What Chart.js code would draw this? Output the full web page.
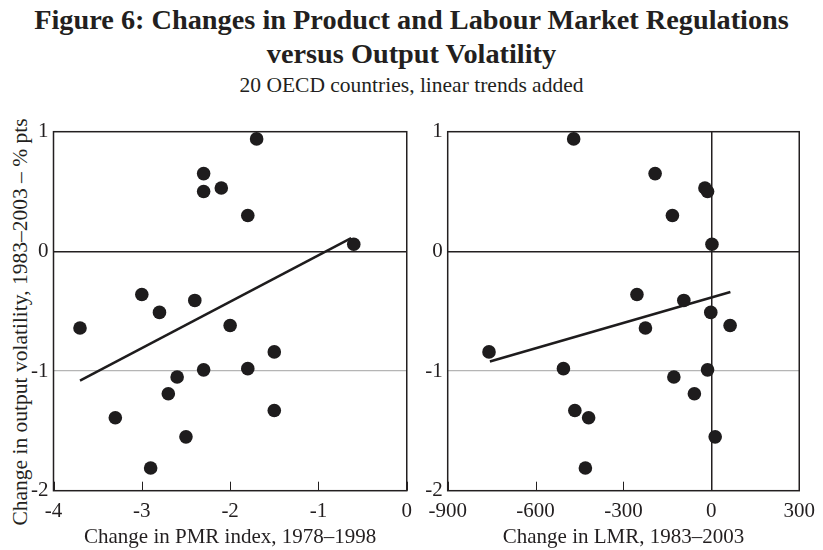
<!DOCTYPE html>
<html>
<head>
<meta charset="utf-8">
<script src="https://cdn.jsdelivr.net/npm/chart.js@4"></script>
<style>
  body { margin: 0; background: #fff; width: 823px; height: 550px; position: relative; overflow: hidden; font-family: "Liberation Serif", serif; color: #231f20; }
  .t1 { position: absolute; left: 0; width: 823px; text-align: center; font-weight: bold; font-size: 28.3px; }
  .sub { position: absolute; left: 0; width: 823px; text-align: center; font-size: 21.5px; }
  .ytitle { position: absolute; left: 20px; top: 322px; width: 500px; margin-left: -250px; margin-top: -13px;
            line-height: 26px; text-align: center; font-size: 21.5px; transform: rotate(-90deg); white-space: nowrap; }
  canvas { position: absolute; top: 110px; }
</style>
</head>
<body>
<div class="t1" style="top:4px">Figure 6: Changes in Product and Labour Market Regulations</div>
<div class="t1" style="top:38px">versus Output Volatility</div>
<div class="sub" style="top:73px">20 OECD countries, linear trends added</div>
<div class="ytitle">Change in output volatility, 1983–2003 – % pts</div>
<canvas id="pmrChart" width="420" height="440" style="left:0"></canvas>
<canvas id="lmrChart" width="403" height="440" style="left:420px"></canvas>
<script>
// change in output volatility, 1983-2003 (% pts), one per country
const volChange = [0.94, 0.65, 0.53, 0.50, 0.30, 0.06, -0.36, -0.41, -0.51, -0.62,
                   -0.64, -0.84, -0.98, -0.99, -1.05, -1.19, -1.33, -1.39, -1.55, -1.81];
// change in PMR index, 1978-1998 (same country order)
const pmrChange = [-1.7, -2.3, -2.1, -2.3, -1.8, -0.6, -3.0, -2.4, -2.8, -2.0,
                   -3.7, -1.5, -1.8, -2.3, -2.6, -2.7, -1.5, -3.3, -2.5, -2.9];
// change in LMR, 1983-2003 (same country order)
const lmrChange = [-470, -192, -22, -13, -133, 2, -254, -94, -2, 64,
                   -225, -759, -505, -13, -128, -58, -466, -419, 13, -430];
// linear trend end points
const pmrTrendX = [-3.7, -0.63];
const pmrTrendY = [-1.08, 0.11];
const lmrTrendX = [-756, 65];
const lmrTrendY = [-0.92, -0.34];

const pmrTicks = [-4, -3, -2, -1, 0];
const lmrTicks = [-900, -600, -300, 0, 300];
const volTicks = [-2, -1, 0, 1];

const ink = '#231f20';
const serif = "'Liberation Serif', serif";

const framePlugin = {
    id: 'frame',
    afterDatasetsDraw(chart) {
        const { ctx, chartArea: a } = chart;
        ctx.save();
        ctx.strokeStyle = ink;
        ctx.lineWidth = 1.5;
        ctx.strokeRect(a.left, a.top, a.right - a.left, a.bottom - a.top);
        // inward tick marks on the bottom axis
        ctx.lineWidth = 1;
        chart.scales.x.ticks.forEach(t => {
            const px = Math.round(chart.scales.x.getPixelForValue(t.value)) + 0.5;
            ctx.beginPath();
            ctx.moveTo(px, a.bottom);
            ctx.lineTo(px, a.bottom - 9);
            ctx.stroke();
        });
        ctx.restore();
    },
};

function makeChart(id, xs, trendX, trendY, xTicks, xTitle, opts) {
    const pts = xs.map((x, i) => ({ x: x, y: volChange[i] }));
    const trend = trendX.map((x, i) => ({ x: x, y: trendY[i] }));
    return new Chart(document.getElementById(id), {
        type: 'scatter',
        data: {
            datasets: [
                {
                    data: pts,
                    pointRadius: 6.8,
                    pointBackgroundColor: '#1e1c1d',
                    pointBorderColor: '#1e1c1d',
                    pointBorderWidth: 0,
                },
                {
                    data: trend,
                    showLine: true,
                    borderColor: '#1e1c1d',
                    borderWidth: 2.5,
                    pointRadius: 0,
                },
            ],
        },
        options: {
            responsive: false,
            animation: false,
            events: [],
            layout: { padding: { left: 0, right: opts.padRight, top: 21.7, bottom: 0 } },
            plugins: { legend: { display: false }, tooltip: { enabled: false } },
            scales: {
                x: {
                    type: 'linear',
                    min: xTicks[0],
                    max: xTicks[xTicks.length - 1],
                    afterBuildTicks: s => { s.ticks = xTicks.map(v => ({ value: v })); },
                    afterFit: s => { s.height = 59.3; },
                    border: { display: false },
                    grid: {
                        drawTicks: false,
                        color: c => (opts.zeroX && c.tick && c.tick.value === 0 ? ink : 'rgba(0,0,0,0)'),
                        lineWidth: 1.5,
                    },
                    ticks: { color: ink, font: { family: serif, size: 21 }, padding: 8, maxRotation: 0, callback: v => String(v) },
                    title: { display: true, text: xTitle, color: ink, font: { family: serif, size: 21 }, padding: { top: 0, bottom: 0 } },
                },
                y: {
                    type: 'linear',
                    min: -2,
                    max: 1,
                    afterBuildTicks: s => { s.ticks = volTicks.map(v => ({ value: v })); },
                    afterFit: s => { s.width = opts.yWidth; },
                    border: { display: false },
                    grid: {
                        drawTicks: false,
                        color: c => {
                            if (!c.tick) return 'rgba(0,0,0,0)';
                            if (c.tick.value === 0) return ink;
                            if (c.tick.value === -1) return '#b5b5b5';
                            return 'rgba(0,0,0,0)';
                        },
                        lineWidth: c => (c.tick && c.tick.value === 0 ? 1.5 : 1.2),
                    },
                    ticks: { color: ink, font: { family: serif, size: 21 }, padding: 5, callback: v => String(v) },
                },
            },
        },
        plugins: [framePlugin],
    });
}

makeChart('pmrChart', pmrChange, pmrTrendX, pmrTrendY, pmrTicks, 'Change in PMR index, 1978–1998',
    { yWidth: 53.5, padRight: 7, zeroX: false });
makeChart('lmrChart', lmrChange, lmrTrendX, lmrTrendY, lmrTicks, 'Change in LMR, 1983–2003',
    { yWidth: 27.7, padRight: 16.3, zeroX: true });
</script>
</body>
</html>
